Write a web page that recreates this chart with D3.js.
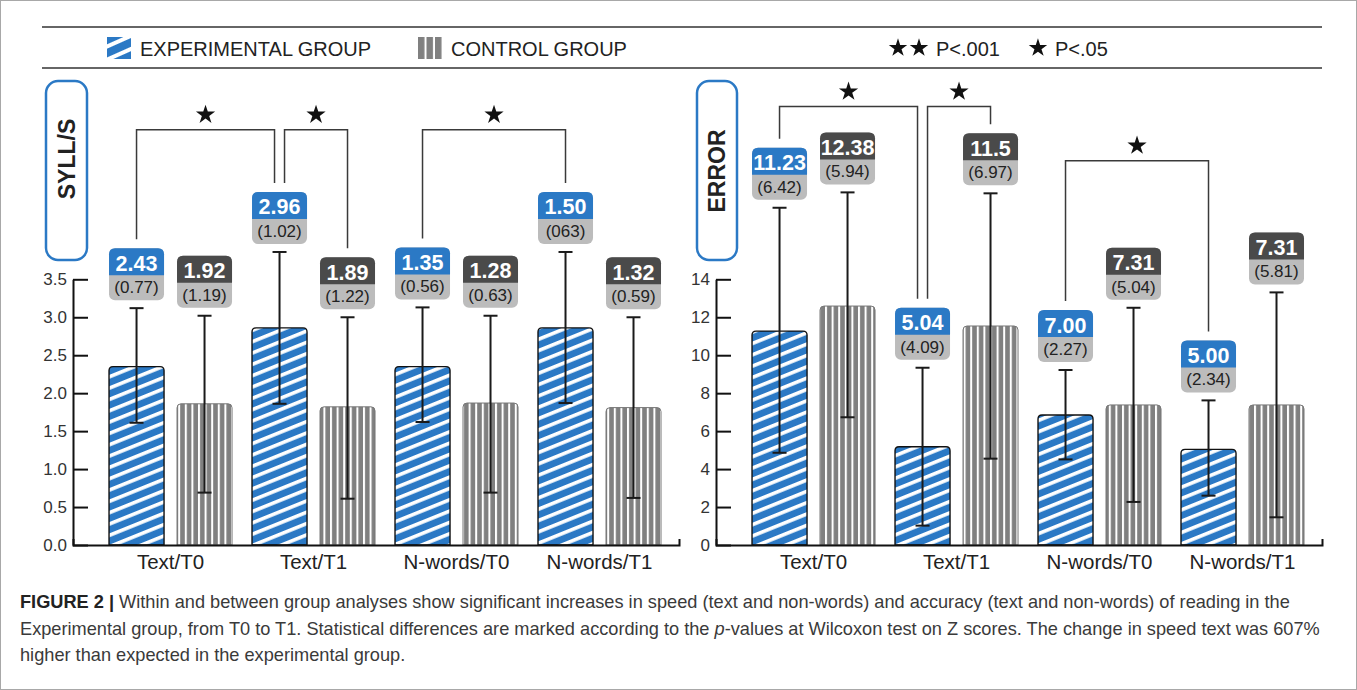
<!DOCTYPE html>
<html>
<head>
<meta charset="utf-8">
<script src="https://cdn.jsdelivr.net/npm/d3@7"></script>
<style>
  body { margin: 0; background: #fff; }
  svg { display: block; font-family: "Liberation Sans", Arial, sans-serif; }
</style>
</head>
<body>
<svg id="chart" width="1357" height="690"></svg>
<script>
const categories = ["Text/T0", "Text/T1", "N-words/T0", "N-words/T1"];
const groups = ["exp", "ctrl"];

// SYLL/S panel (bar tops and error bar ends as drawn in the figure)
const syllExpBar = [2.35, 2.86, 2.35, 2.86];
const syllExpLow = [1.61, 1.86, 1.62, 1.87];
const syllExpHigh = [3.12, 3.86, 3.13, 3.86];
const syllCtrlBar = [1.86, 1.82, 1.87, 1.81];
const syllCtrlLow = [0.69, 0.61, 0.69, 0.62];
const syllCtrlHigh = [3.02, 3.0, 3.02, 3.0];
const syllExpMean = ["2.43", "2.96", "1.35", "1.50"];
const syllExpSd = ["(0.77)", "(1.02)", "(0.56)", "(063)"];
const syllCtrlMean = ["1.92", "1.89", "1.28", "1.32"];
const syllCtrlSd = ["(1.19)", "(1.22)", "(0.63)", "(0.59)"];
const syllTicks = [0, 0.5, 1, 1.5, 2, 2.5, 3, 3.5];
// [from category, from group, to category, to group, bracket level]
const syllBrackets = [
  ["Text/T0", "exp", "Text/T1", "exp", 5.47],
  ["Text/T1", "exp", "Text/T1", "ctrl", 5.47],
  ["N-words/T0", "exp", "N-words/T1", "exp", 5.47]
];

// ERROR panel
const errExpBar = [11.27, 5.18, 6.85, 5.04];
const errExpLow = [4.86, 1.02, 4.51, 2.6];
const errExpHigh = [17.77, 9.34, 9.22, 7.62];
const errCtrlBar = [12.59, 11.54, 7.38, 7.38];
const errCtrlLow = [6.73, 4.55, 2.27, 1.46];
const errCtrlHigh = [18.58, 18.53, 12.5, 13.31];
const errExpMean = ["11.23", "5.04", "7.00", "5.00"];
const errExpSd = ["(6.42)", "(4.09)", "(2.27)", "(2.34)"];
const errCtrlMean = ["12.38", "11.5", "7.31", "7.31"];
const errCtrlSd = ["(5.94)", "(6.97)", "(5.04)", "(5.81)"];
const errTicks = [0, 2, 4, 6, 8, 10, 12, 14];
const errBrackets = [
  ["Text/T0", "exp", "Text/T1", "exp", 23.1],
  ["Text/T1", "exp", "Text/T1", "ctrl", 23.1],
  ["N-words/T0", "exp", "N-words/T1", "exp", 20.25]
];

const legendItems = ["EXPERIMENTAL GROUP", "CONTROL GROUP"];
const pLegend = [[2, "P<.001"], [1, "P<.05"]];

const BLUE = "#2b79c5", DARK = "#4a4a4a", LIGHT = "#bcbcbc", GRAY = "#808080";

const svg = d3.select("#chart");
const defs = svg.append("defs");

// stripe patterns
const pe = defs.append("pattern").attr("id", "expFill")
  .attr("patternUnits", "userSpaceOnUse").attr("width", 20).attr("height", 10.5)
  .attr("patternTransform", "rotate(-22)");
pe.append("rect").attr("width", 20).attr("height", 10.5).attr("fill", BLUE);
pe.append("rect").attr("y", 0).attr("width", 20).attr("height", 3.6).attr("fill", "#fff");

const pc = defs.append("pattern").attr("id", "ctrlFill")
  .attr("patternUnits", "userSpaceOnUse").attr("width", 6.6).attr("height", 10);
pc.append("rect").attr("width", 6.6).attr("height", 10).attr("fill", GRAY);
pc.append("rect").attr("x", 0).attr("width", 2).attr("height", 10).attr("fill", "#fff");

const pel = defs.append("pattern").attr("id", "expLegend")
  .attr("patternUnits", "userSpaceOnUse").attr("width", 40).attr("height", 12)
  .attr("patternTransform", "rotate(-24)");
pel.append("rect").attr("width", 40).attr("height", 12).attr("fill", BLUE);
pel.append("rect").attr("width", 40).attr("height", 4).attr("fill", "#fff");

const pcl = defs.append("pattern").attr("id", "ctrlLegend")
  .attr("patternUnits", "userSpaceOnUse").attr("width", 8.5).attr("height", 30).attr("x", 418);
pcl.append("rect").attr("width", 8.5).attr("height", 30).attr("fill", GRAY);
pcl.append("rect").attr("x", 6.5).attr("width", 2).attr("height", 30).attr("fill", "#fff");

// frame
svg.append("rect").attr("x", 0.5).attr("y", 0.5).attr("width", 1356).attr("height", 689)
  .attr("fill", "none").attr("stroke", "#a8a8a8");

// legend band
svg.append("line").attr("x1", 42).attr("x2", 1322).attr("y1", 27).attr("y2", 27)
  .attr("stroke", "#333").attr("stroke-width", 1.6);
svg.append("line").attr("x1", 42).attr("x2", 1322).attr("y1", 68).attr("y2", 68)
  .attr("stroke", "#333").attr("stroke-width", 1.6);

const legX = [107, 418];
legendItems.forEach((name, i) => {
  svg.append("rect").attr("x", legX[i]).attr("y", 37).attr("width", 24).attr("height", 22)
    .attr("fill", i === 0 ? "url(#expLegend)" : "url(#ctrlLegend)");
  svg.append("text").attr("x", legX[i] + 33).attr("y", 55.5)
    .attr("font-size", 20).attr("fill", "#222").text(name);
});

const star = d3.symbol(d3.symbolStar);
let px = 889;
pLegend.forEach(([n, label]) => {
  for (let k = 0; k < n; k++) {
    svg.append("path").attr("d", star.size(105)())
      .attr("transform", `translate(${px + 9},${48})`).attr("fill", "#111");
    px += 21;
  }
  const t = svg.append("text").attr("x", px + 5).attr("y", 55.5)
    .attr("font-size", 20).attr("fill", "#222").text(label);
  px += t.node().getComputedTextLength() + 34;
});

function barPath(x, y, w, h, r) {
  return `M${x},${y + h}V${y + r}Q${x},${y} ${x + r},${y}H${x + w - r}Q${x + w},${y} ${x + w},${y + r}V${y + h}Z`;
}

function drawPanel(p) {
  const g = svg.append("g");
  const y = d3.scaleLinear().domain(p.domain).range([545, 279.3]);
  const x = d3.scaleBand().domain(categories)
    .range([p.axisX, p.axisX + 606]).paddingInner(0).paddingOuter(0.119).align(0.765);
  const xs = d3.scaleBand().domain(groups).range([10, 133]).paddingInner(0.191);

  const rows = [];
  categories.forEach((c, i) => {
    rows.push({ c, s: "exp", v: p.expBar[i], lo: p.expLow[i], hi: p.expHigh[i], mean: p.expMean[i], sd: p.expSd[i] });
    rows.push({ c, s: "ctrl", v: p.ctrlBar[i], lo: p.ctrlLow[i], hi: p.ctrlHigh[i], mean: p.ctrlMean[i], sd: p.ctrlSd[i] });
  });
  const bw = xs.bandwidth();
  const bx = d => x(d.c) + xs(d.s);
  const cx = d => bx(d) + bw / 2;
  const boxTop = d => y(d.hi) - 8 - 52;

  // bars
  g.selectAll(".bar").data(rows).join("path")
    .attr("d", d => barPath(bx(d), y(d.v), bw, y(0) - y(d.v), 4))
    .attr("fill", d => d.s === "exp" ? "url(#expFill)" : "url(#ctrlFill)")
    .attr("stroke", d => d.s === "exp" ? "#111" : "#777")
    .attr("stroke-width", d => d.s === "exp" ? 1.4 : 1);

  // error bars
  const eb = g.selectAll(".err").data(rows).join("g").attr("stroke", "#1a1a1a").attr("stroke-width", 2);
  eb.append("line").attr("x1", cx).attr("x2", cx).attr("y1", d => y(d.hi)).attr("y2", d => y(d.lo));
  eb.append("line").attr("x1", d => cx(d) - 7).attr("x2", d => cx(d) + 7).attr("y1", d => y(d.hi)).attr("y2", d => y(d.hi));
  eb.append("line").attr("x1", d => cx(d) - 7).attr("x2", d => cx(d) + 7).attr("y1", d => y(d.lo)).attr("y2", d => y(d.lo));

  // value labels
  const lb = g.selectAll(".lab").data(rows).join("g");
  lb.append("rect").attr("x", bx).attr("y", boxTop).attr("width", bw).attr("height", 52)
    .attr("rx", 6).attr("fill", LIGHT);
  lb.append("path").attr("d", d => barPath(bx(d), boxTop(d), bw, 27, 6))
    .attr("fill", d => d.s === "exp" ? BLUE : DARK);
  lb.append("text").attr("x", cx).attr("y", d => boxTop(d) + 22.5).attr("text-anchor", "middle")
    .attr("font-size", 21.5).attr("font-weight", "bold").attr("fill", "#fff").text(d => d.mean);
  lb.append("text").attr("x", cx).attr("y", d => boxTop(d) + 45).attr("text-anchor", "middle")
    .attr("font-size", 17).attr("fill", "#222").text(d => d.sd);

  // significance brackets
  const find = (c, s) => rows.find(r => r.c === c && r.s === s);
  const shared = (c, s) => p.brackets.filter(q => (q[0] === c && q[1] === s) || (q[2] === c && q[3] === s)).length > 1;
  p.brackets.forEach(([c1, s1, c2, s2, lvl]) => {
    const a = find(c1, s1), b = find(c2, s2);
    const xa = cx(a) + (shared(c1, s1) ? 5 : 0);
    const xb = cx(b) - (shared(c2, s2) ? 5 : 0);
    const top = y(lvl);
    g.append("path")
      .attr("d", `M${xa},${boxTop(a) - 9}V${top}H${xb}V${boxTop(b) - 9}`)
      .attr("fill", "none").attr("stroke", "#3a3a3a").attr("stroke-width", 1.5);
    g.append("path").attr("d", star.size(115)())
      .attr("transform", `translate(${(xa + xb) / 2},${top - 15})`).attr("fill", "#111");
  });

  // axes
  const yAxis = g.append("g").attr("transform", `translate(${p.axisX},0)`)
    .call(d3.axisLeft(y).tickValues(p.ticks).tickFormat(p.fmt)
      .tickSizeInner(-15).tickSizeOuter(0).tickPadding(6));
  yAxis.selectAll("path,line").attr("stroke", "#111").attr("stroke-width", 2);
  yAxis.selectAll("text").attr("font-size", 17).attr("fill", "#333")
    .attr("font-family", "Liberation Sans, Arial, sans-serif");

  const xAxis = g.append("g").attr("transform", `translate(0,${y(0)})`)
    .call(d3.axisBottom(x).tickSizeInner(0).tickSizeOuter(-6).tickPadding(9));
  xAxis.select(".domain").attr("stroke", "#111").attr("stroke-width", 2);
  xAxis.selectAll("text").attr("font-size", 20.5).attr("fill", "#222")
    .attr("font-family", "Liberation Sans, Arial, sans-serif");

  // y title box
  g.append("rect").attr("x", p.titleBox[0]).attr("y", 81).attr("width", p.titleBox[1]).attr("height", 179)
    .attr("rx", 12).attr("fill", "#fff").attr("stroke", BLUE).attr("stroke-width", 2.5);
  g.append("text").attr("transform", `translate(${p.titleBox[0] + p.titleBox[1] / 2 + 8},${p.titleY}) rotate(-90)`)
    .attr("text-anchor", "middle").attr("font-size", 23).attr("font-weight", "bold").attr("fill", "#222")
    .text(p.title);
}

drawPanel({
  axisX: 73, domain: [0, 3.5], ticks: syllTicks, fmt: d3.format(".1f"),
  expBar: syllExpBar, expLow: syllExpLow, expHigh: syllExpHigh,
  ctrlBar: syllCtrlBar, ctrlLow: syllCtrlLow, ctrlHigh: syllCtrlHigh,
  expMean: syllExpMean, expSd: syllExpSd, ctrlMean: syllCtrlMean, ctrlSd: syllCtrlSd,
  brackets: syllBrackets, title: "SYLL/S", titleBox: [46, 41], titleY: 159
});
drawPanel({
  axisX: 716, domain: [0, 14], ticks: errTicks, fmt: d3.format("d"),
  expBar: errExpBar, expLow: errExpLow, expHigh: errExpHigh,
  ctrlBar: errCtrlBar, ctrlLow: errCtrlLow, ctrlHigh: errCtrlHigh,
  expMean: errExpMean, expSd: errExpSd, ctrlMean: errCtrlMean, ctrlSd: errCtrlSd,
  brackets: errBrackets, title: "ERROR", titleBox: [697, 40], titleY: 171
});

// caption
const cap = svg.append("text").attr("font-size", 18.2).attr("fill", "#3a3a3a");
const l1 = cap.append("tspan").attr("x", 20).attr("y", 608);
l1.append("tspan").attr("font-weight", "bold").attr("fill", "#222").text("FIGURE 2 | ");
l1.append("tspan").text("Within and between group analyses show significant increases in speed (text and non-words) and accuracy (text and non-words) of reading in the");
const l2 = cap.append("tspan").attr("x", 20).attr("y", 634.5);
l2.append("tspan").text("Experimental group, from T0 to T1. Statistical differences are marked according to the ");
l2.append("tspan").attr("font-style", "italic").text("p");
l2.append("tspan").text("-values at Wilcoxon test on Z scores. The change in speed text was 607%");
cap.append("tspan").attr("x", 20).attr("y", 661).text("higher than expected in the experimental group.");
</script>
</body>
</html>
